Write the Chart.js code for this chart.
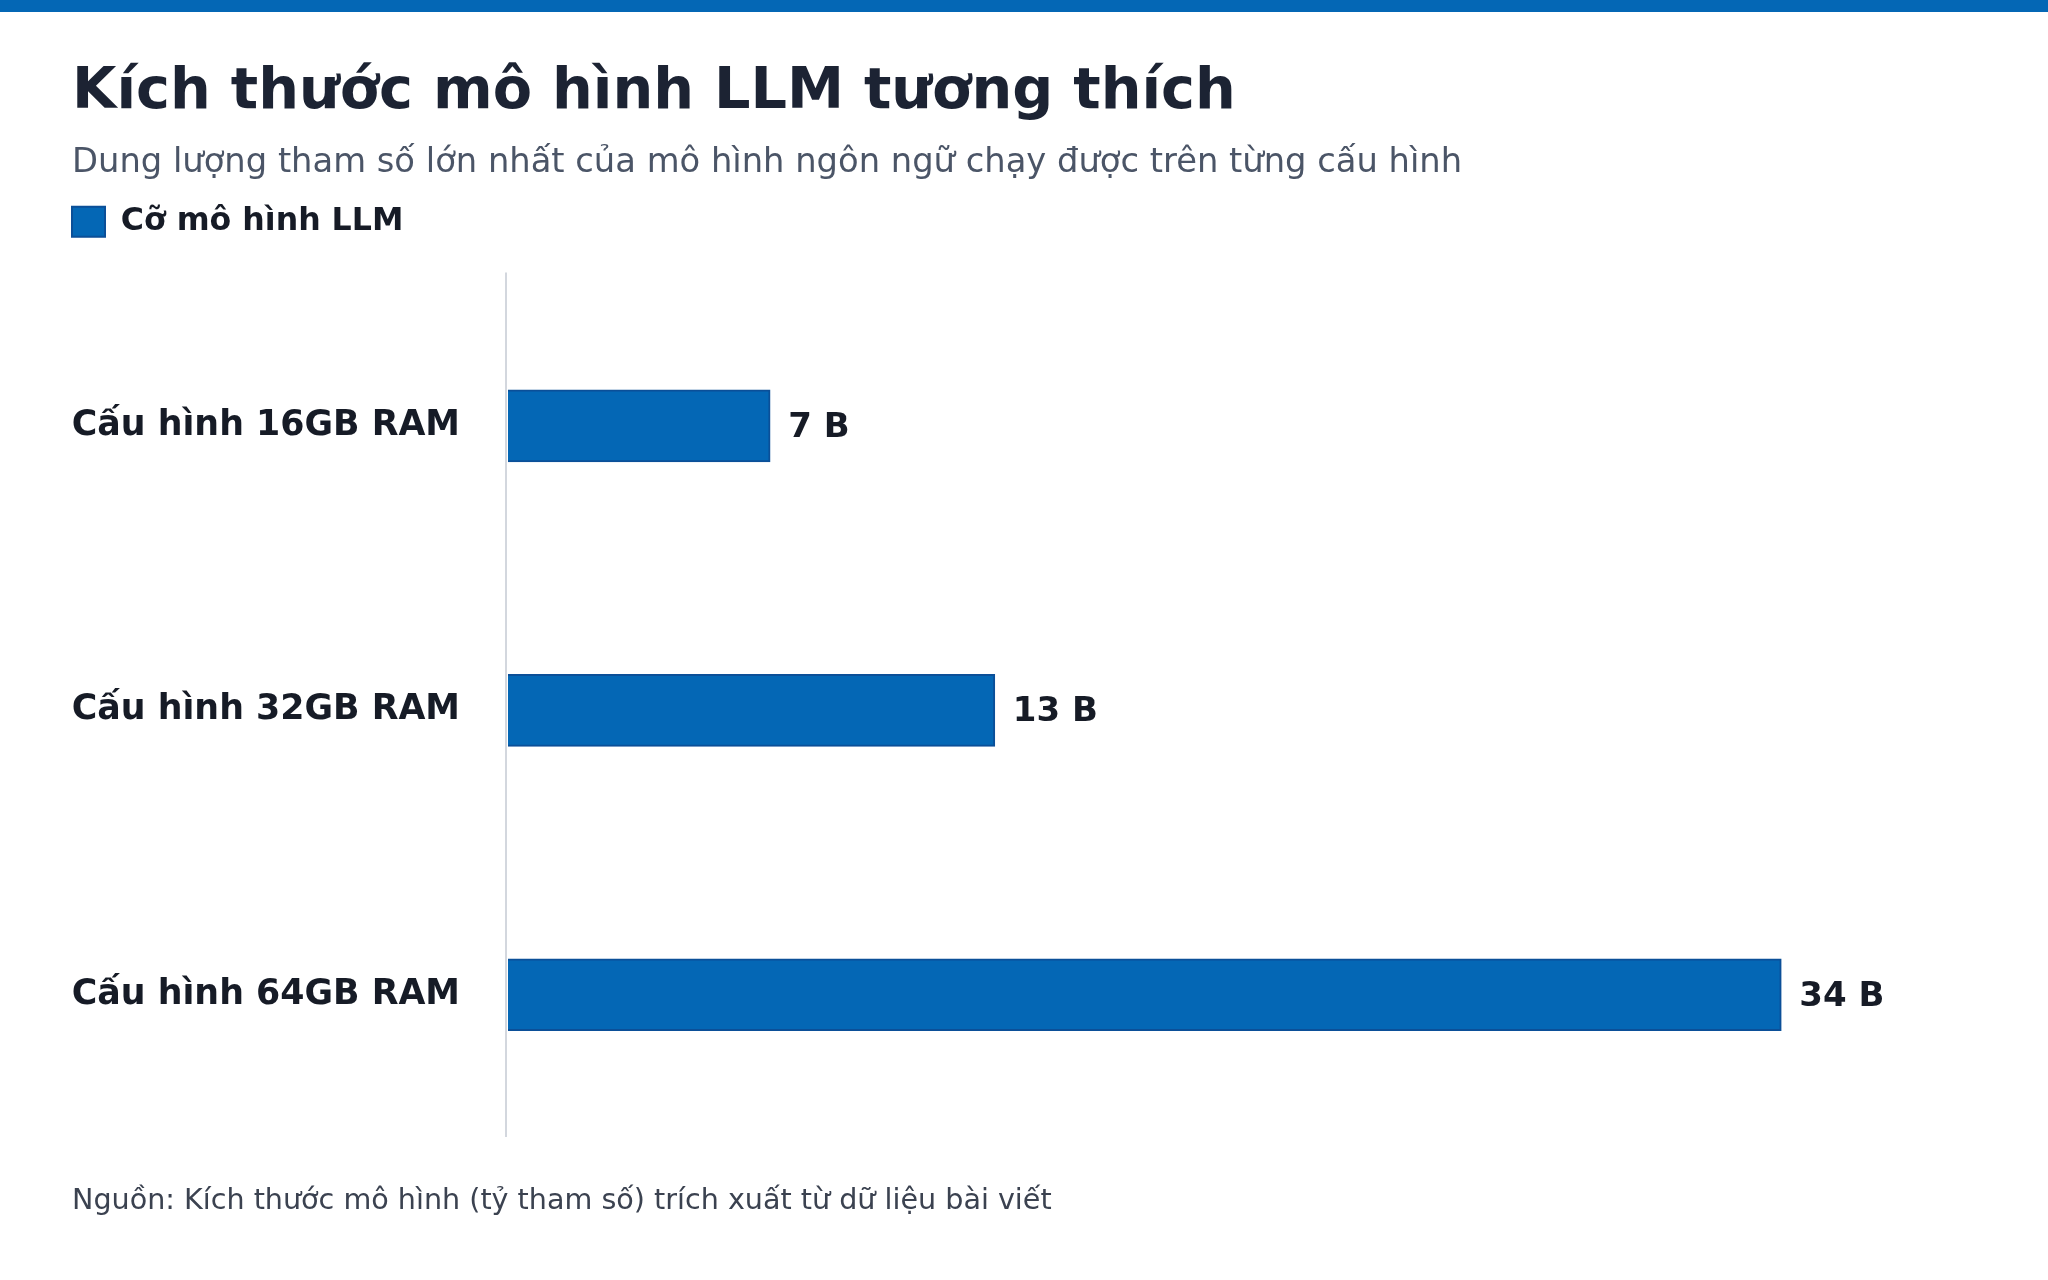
<!DOCTYPE html>
<html>
<head>
<meta charset="utf-8">
<script src="https://cdn.jsdelivr.net/npm/chart.js@4.4.1/dist/chart.umd.min.js"></script>
<style>
  html, body { margin: 0; padding: 0; background: #fff; }
  body { width: 2048px; height: 1280px; position: relative; overflow: hidden; font-family: 'DejaVu Sans', sans-serif; }
  .topbar { position: absolute; left: 0; top: 0; width: 2048px; height: 12px; background: #0467b5; }
  .title { position: absolute; left: 72px; top: 60px; font-size: 57.3px; line-height: 57.3px; font-weight: bold; color: #1c2333; white-space: nowrap; }
  .subtitle { position: absolute; left: 72px; top: 144px; font-size: 33.75px; line-height: 33.75px; color: #4b5567; white-space: nowrap; }
  .note { position: absolute; left: 72px; top: 1185px; font-size: 28.6px; line-height: 28.6px; color: #3b4250; white-space: nowrap; }
  #wrap { position: absolute; left: 0; top: 0; width: 2048px; height: 1280px; }
</style>
</head>
<body>
<div class="topbar"></div>
<div id="wrap"><canvas id="chart" width="2048" height="1280"></canvas></div>
<div class="title">Kích thước mô hình LLM tương thích</div>
<div class="subtitle">Dung lượng tham số lớn nhất của mô hình ngôn ngữ chạy được trên từng cấu hình</div>
<div class="note">Nguồn: Kích thước mô hình (tỷ tham số) trích xuất từ dữ liệu bài viết</div>
<script>
const configs = ['Cấu hình 16GB RAM', 'Cấu hình 32GB RAM', 'Cấu hình 64GB RAM'];
const modelSizes = [7, 13, 34];
const seriesName = 'Cỡ mô hình LLM';
const unit = 'B';

Chart.defaults.font.family = "'DejaVu Sans', sans-serif";
Chart.defaults.color = '#161b26';

// thin baseline a bit left of the bars, reaching slightly above the plot
const baseLine = {
  id: 'baseLine',
  beforeDatasetsDraw(chart) {
    const a = chart.chartArea;
    const c = chart.ctx;
    c.save();
    c.strokeStyle = '#d3d7de';
    c.lineWidth = 2;
    c.beginPath();
    c.moveTo(a.left - 2, a.top - 11);
    c.lineTo(a.left - 2, a.bottom);
    c.stroke();
    c.restore();
  }
};

// value labels at the end of each bar
const valueLabels = {
  id: 'valueLabels',
  afterDatasetsDraw(chart) {
    const ctx = chart.ctx;
    const meta = chart.getDatasetMeta(0);
    ctx.save();
    ctx.font = "bold 34px 'DejaVu Sans', sans-serif";
    ctx.fillStyle = '#161b26';
    ctx.textAlign = 'left';
    ctx.textBaseline = 'middle';
    meta.data.forEach((bar, i) => {
      ctx.fillText(modelSizes[i] + ' ' + unit, bar.x + 18, bar.y + 2);
    });
    ctx.restore();
  }
};

let ctx = document.getElementById('chart').getContext('2d');
let chart = new Chart(ctx, {
  type: 'bar',
  data: {
    labels: configs,
    datasets: [{
      label: seriesName,
      data: modelSizes,
      backgroundColor: '#0467b5',
      borderColor: '#0b4f98',
      borderWidth: 2,
      barThickness: 72
    }]
  },
  options: {
    indexAxis: 'y',
    responsive: false,
    animation: false,
    devicePixelRatio: 1,
    layout: { padding: { left: 62, top: 196, right: 42, bottom: 143 } },
    plugins: {
      legend: {
        display: true,
        position: 'top',
        align: 'start',
        labels: {
          boxWidth: 33,
          boxHeight: 30,
          padding: 10,
          color: '#161b26',
          font: { size: 31.6, weight: 'bold' }
        }
      },
      tooltip: { enabled: false }
    },
    scales: {
      x: {
        position: 'top',
        min: 0,
        max: 40,
        ticks: { display: false },
        grid: { display: false },
        border: { display: false },
        afterFit: (s) => { s.height = 36; }
      },
      y: {
        grid: { display: false, drawTicks: false },
        border: { display: false },
        ticks: {
          padding: 48,
          color: '#161b26',
          font: { size: 34.8, weight: 'bold' }
        },
        afterFit: (s) => { s.width = 446; }
      }
    }
  },
  plugins: [baseLine, valueLabels]
});
</script>
</body>
</html>
